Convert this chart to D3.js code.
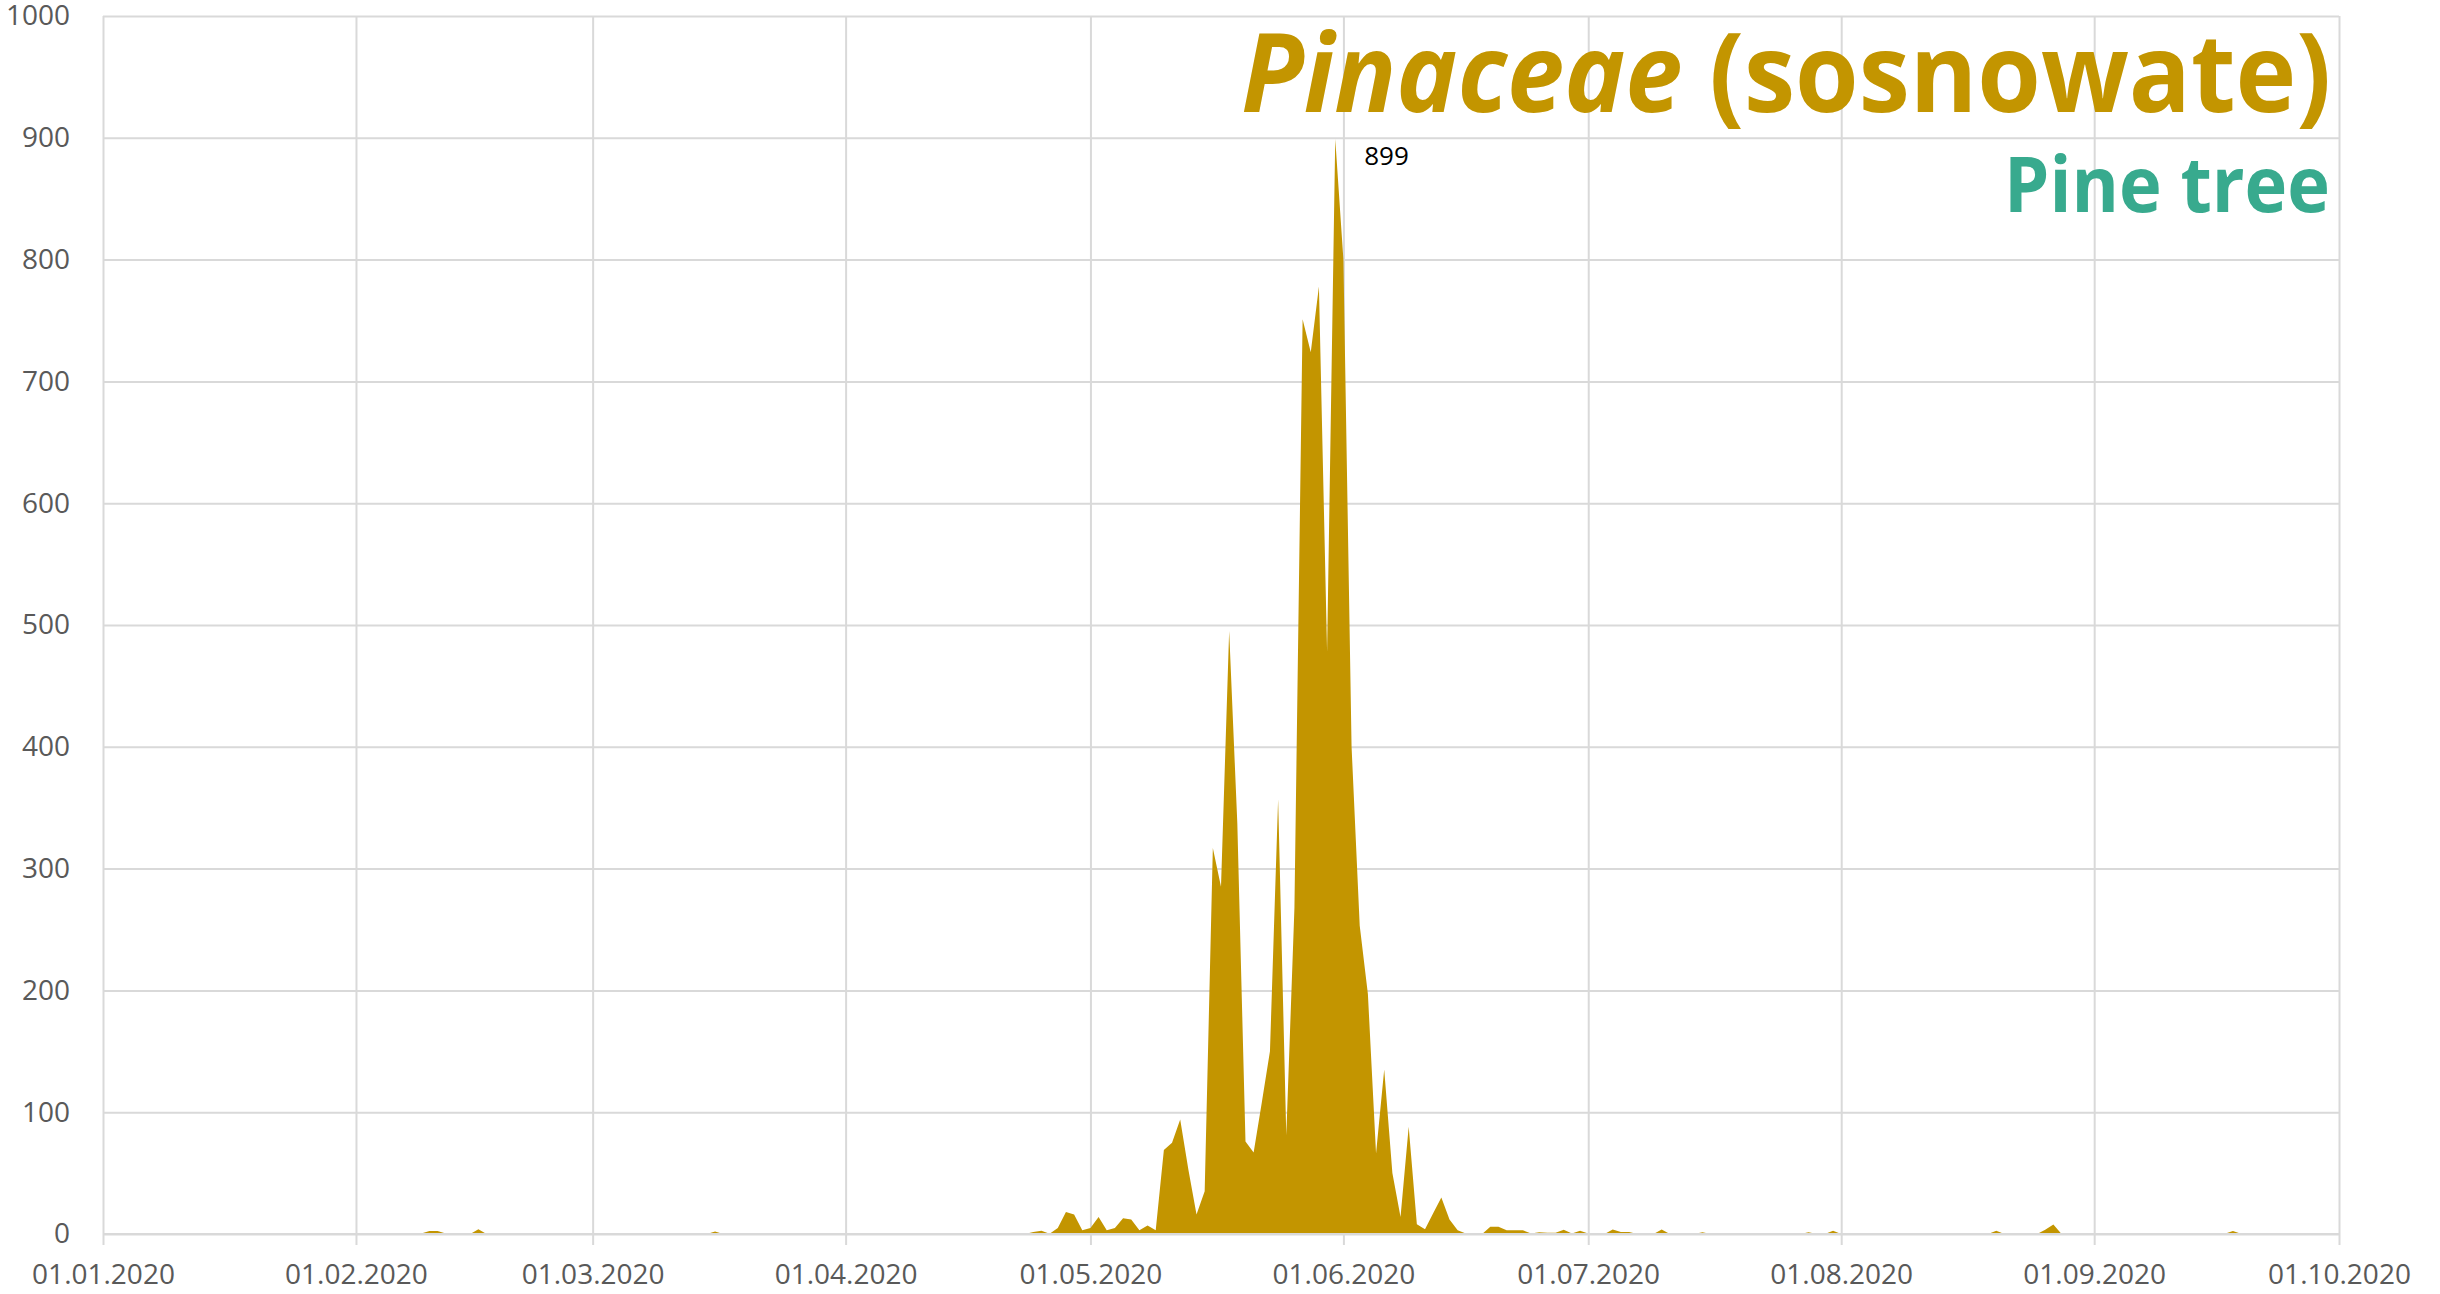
<!DOCTYPE html>
<html>
<head>
<meta charset="utf-8">
<script src="https://cdn.jsdelivr.net/npm/d3@7"></script>
<style>
  body { margin: 0; background: #fff; }
  svg { display: block; font-family: "Open Sans", sans-serif; }
</style>
</head>
<body>
<svg id="graf" width="2440" height="1294"></svg>
<script>
// daily values, 2020 (one array per month)
const jan = [0,0,0,0,0,0,0,0,0,0, 0,0,0,0,0.2,0,0,0,0.2,0, 0,0,0,0,0,0,0,0,0,0, 0];
const feb = [0,0.2,0,0,0,0,0,0,0.5,2.5, 2.5,0.5,0,0,0,4,0,0,0,0, 0.2,0,0,0.2,0,0,0,0,0];
const mar = [0,0,0.3,0,0,0.3,0.3,0,0.2,0, 0,0,0,0,0,2,0,0,0,0, 0.3,0,0.3,0.3,0,0,0,0,0,0, 0];
const apr = [0,0,0.2,0,0,0,0,0.2,0,0, 0,0,0,0.8,0,0,0,0,0.2,0, 0,0,0,1.6,2.7,0.3,5,18,16,3];
const may = [5,14,3,5,13,12,3,7,3,69, 75,94,53,16,35,317,285,495,337,76, 67,108,150,357,81,268,751,724,778,478, 899];
const jun = [800,400,253,197,66,135,50,14,88,8, 4,17,30,12,3,0.5,0,0,6,6, 3,3,3,0.5,1.4,1,1,3.5,0.5,2.7];
const jul = [0.5,0,0,3.6,1.6,1.6,0,0,0,3.6, 0,0,0,0,1.4,0,0,0,0,0, 0,0,0,0,0,0,0,1.4,0,0, 2.7];
const aug = [0,0,0,0,0,0,0,0.2,0,0, 0,0.2,0,0,0,0,0,0,0,2.7, 0,0,0,0,0,3.5,7.7,0,0,0, 0];
const sep = [0,0,0.2,0,0,0,0,0,0,0, 0,0,0,0,0,0,0.3,2.5,0.3,0, 0.3,0,0,0,0,0,0,0.3,0,0];

const yTicks = [0,100,200,300,400,500,600,700,800,900,1000];
const xTicks = ["2020-01-01","2020-02-01","2020-03-01","2020-04-01","2020-05-01",
                "2020-06-01","2020-07-01","2020-08-01","2020-09-01","2020-10-01"];
const titleLatin = "Pinaceae";
const titlePolish = " (sosnowate)";
const titleEnglish = "Pine tree";
const peakLabel = "899";

const values = jan.concat(feb, mar, apr, may, jun, jul, aug, sep);
const start = Date.UTC(2020, 0, 1);
const data = values.map((v, i) => ({date: new Date(start + i * 864e5), value: v}));

const gold = "#c39500";
const teal = "#38aa8e";
const grid = "#d9d9d9";

const plotLeft = 103, plotRight = 2339, plotTop = 16, plotBottom = 1234;

const svg = d3.select("#graf");

const xScale = d3.scaleUtc()
    .domain([new Date(xTicks[0]), new Date(xTicks[xTicks.length - 1])])
    .range([plotLeft, plotRight]);

const yScale = d3.scaleLinear()
    .domain([0, 1000])
    .range([plotBottom, plotTop]);

// horizontal grid + y labels
const yAxis = d3.axisLeft(yScale)
    .tickValues(yTicks)
    .tickFormat(d3.format("d"))
    .tickSize(-(plotRight - plotLeft))
    .tickPadding(33);
const gy = svg.append("g")
    .attr("transform", `translate(${plotLeft},0)`)
    .call(yAxis);
gy.select(".domain").remove();
gy.selectAll("line").attr("stroke", grid).attr("stroke-width", 2);
gy.selectAll("text")
    .attr("fill", "#595959")
    .style("font-size", "28px")
    .style("font-family", "'Open Sans', sans-serif");

// vertical grid + x labels
const xAxis = d3.axisBottom(xScale)
    .tickValues(xTicks.map(d => new Date(d)))
    .tickFormat(d3.utcFormat("%d.%m.%Y"))
    .tickSize(-(plotBottom - plotTop))
    .tickPadding(30);
const gx = svg.append("g")
    .attr("transform", `translate(0,${plotBottom})`)
    .call(xAxis);
gx.select(".domain").remove();
gx.selectAll("line")
    .attr("stroke", grid).attr("stroke-width", 2)
    .attr("y1", 11);
gx.selectAll("text")
    .attr("fill", "#595959")
    .attr("dy", "0.71em")
    .style("font-size", "28px")
    .style("font-family", "'Open Sans', sans-serif");

// area
const area = d3.area()
    .x(d => xScale(d.date))
    .y0(yScale(0))
    .y1(d => yScale(d.value));

svg.append("path")
    .datum(data)
    .attr("fill", gold)
    .attr("d", area);

// zero line on top
svg.append("line")
    .attr("x1", plotLeft).attr("x2", plotRight)
    .attr("y1", yScale(0)).attr("y2", yScale(0))
    .attr("stroke", grid).attr("stroke-width", 2);

// peak label
const peak = data.reduce((a, b) => (b.value > a.value ? b : a));
svg.append("text")
    .attr("x", xScale(peak.date) + 29)
    .attr("y", yScale(peak.value) + 26)
    .attr("fill", "#000")
    .style("font-size", "26px")
    .text(peakLabel);

// titles, squeezed horizontally to the reference width
function squeeze(sel, width) {
  const w = sel.node().getBBox().width;
  const s = width / w;
  sel.attr("transform", sel.attr("transform") + ` scale(${s},1)`);
}

const title = svg.append("text")
    .attr("transform", "translate(2331,112)")
    .attr("text-anchor", "end")
    .attr("fill", gold)
    .style("font-size", "110px")
    .style("font-weight", "bold");
title.append("tspan").style("font-style", "italic").text(titleLatin);
title.append("tspan").text(titlePolish);
squeeze(title, 1090);

const sub = svg.append("text")
    .attr("transform", "translate(2330,212)")
    .attr("text-anchor", "end")
    .attr("fill", teal)
    .style("font-size", "77px")
    .style("font-weight", "bold")
    .text(titleEnglish);
squeeze(sub, 326);
</script>
</body>
</html>
